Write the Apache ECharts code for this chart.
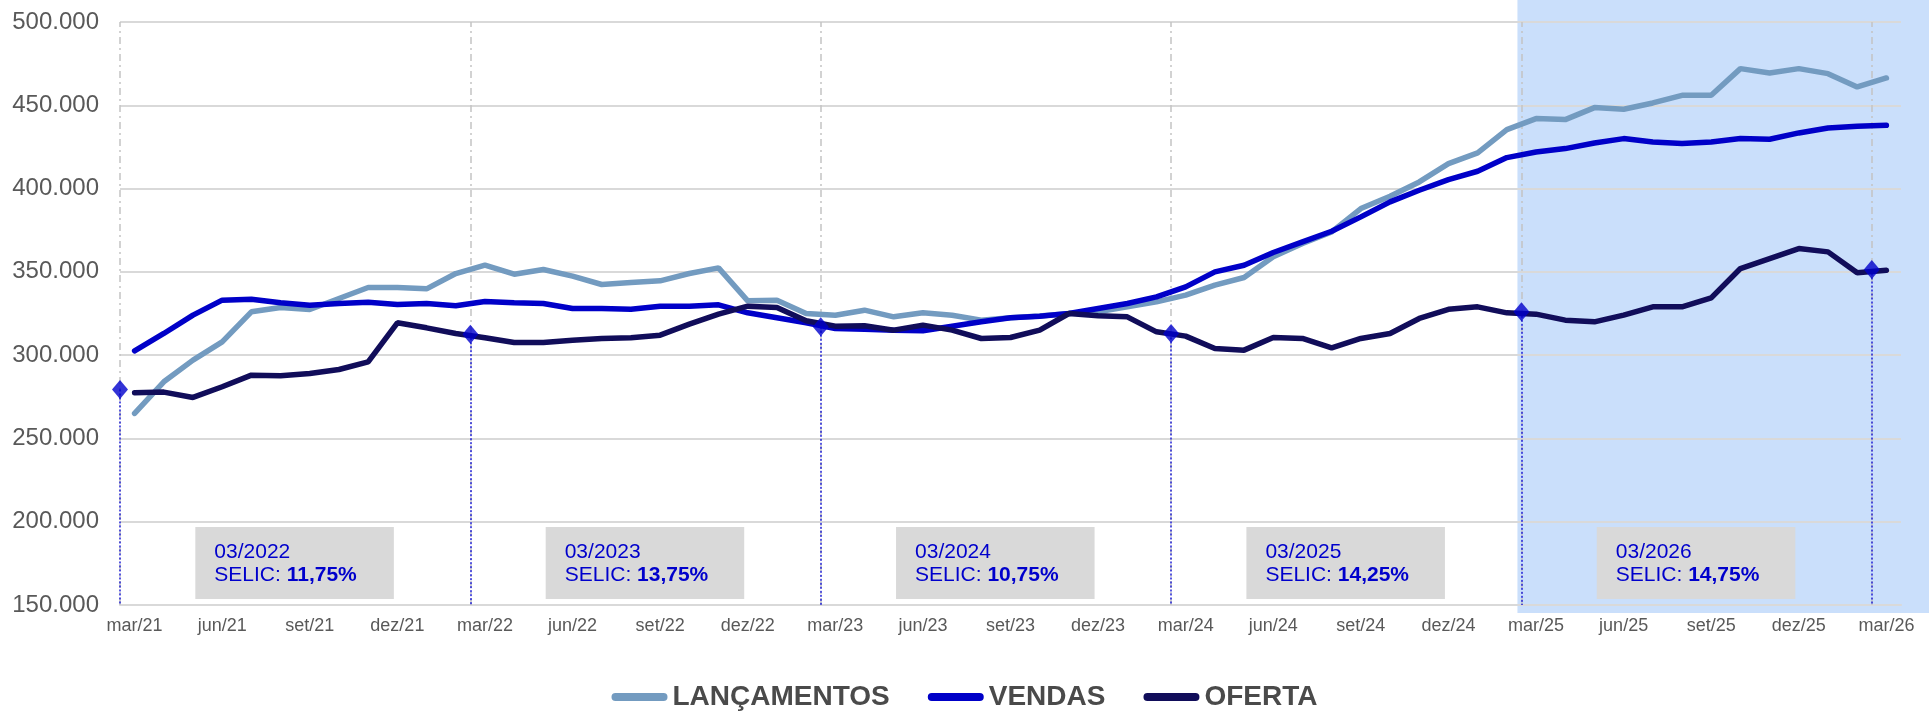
<!DOCTYPE html>
<html>
<head>
<meta charset="utf-8">
<title>Lançamentos, Vendas e Oferta</title>
<script src="https://cdn.jsdelivr.net/npm/echarts@6/dist/echarts.min.js"></script>
<style>
  html, body { margin: 0; padding: 0; background: #fff; }
  #chart { width: 1929px; height: 712px; }
</style>
</head>
<body>
<div id="chart"></div>
<script>
// meses mar/21 .. mar/26
const monthNames = ["mar", "abr", "mai", "jun", "jul", "ago", "set", "out", "nov", "dez", "jan", "fev"];
const categories = [];
for (let i = 0; i < 61; i++) {
  categories.push(monthNames[i % 12] + "/" + (21 + Math.floor((i + 2) / 12)));
}

const lancamentos = [
  265000, 284000, 297000, 308000, 326000, 328600, 327400, 334000, 340600, 340600,
  339800, 349000, 354000, 348600, 351400, 347400, 342400, 343600, 344600, 349000,
  352400, 332600, 333000, 325000, 324000, 327000, 323000, 325400, 324000, 321000,
  322500, 323500, 325000, 326000, 329000, 332000, 336000, 342000, 346600, 359000,
  367000, 374000, 388000, 395400, 404000, 415000, 421400, 435400, 442000, 441400,
  448600, 447600, 451400, 456000, 456000, 472000, 469400, 472000, 469000, 461000,
  466400,
];
const vendas = [
  302600, 313000, 324000, 333000, 333600, 331400, 330000, 331000, 331800, 330400,
  331000, 329600, 332200, 331400, 331000, 328000, 328000, 327600, 329400, 329400,
  330200, 325400, 322400, 319400, 316000, 315600, 315000, 314600, 317400, 320000,
  322400, 323400, 325000, 328000, 331000, 335000, 341000, 350000, 354000, 361600,
  368000, 374400, 383000, 392000, 399000, 405400, 410400, 418600, 422000, 424000,
  427400, 430000, 428000, 427000, 428000, 430000, 429600, 433400, 436400, 437400,
  438000,
];
const oferta = [
  277400, 277800, 274600, 281000, 288000, 287600, 289000, 291400, 296000, 319400,
  316400, 313000, 310400, 307600, 307600, 309000, 310000, 310400, 312000, 318600,
  324600, 329400, 328600, 320600, 317400, 317600, 315000, 318000, 315000, 310000,
  310600, 315000, 325000, 323600, 323000, 314000, 311400, 304000, 303000, 310600,
  310000, 304400, 310000, 313000, 322000, 327500, 329000, 325400, 324600, 321000,
  320000, 324000, 329000, 329000, 334400, 352000, 358000, 364000, 362000, 349400,
  351000,
];

// marcos de março (posição no eixo em meses desde mar/21) e SELIC
const markIdx = [0, 12, 24, 36, 48, 60];
const markValues = [279400, 312600, 317000, 313000, 326000, 351400];
const selicDates = ["03/2022", "03/2023", "03/2024", "03/2025", "03/2026"];
const selicRates = ["11,75%", "13,75%", "10,75%", "14,25%", "14,75%"];
const projectionStart = 48;

const FONT = "'Liberation Sans', Arial, sans-serif";
const fmtThousands = v => String(v).replace(/\B(?=(\d{3})+(?!\d))/g, ".");

const chart = echarts.init(document.getElementById("chart"));

const option = {
  animation: false,
  backgroundColor: "#fff",
  grid: { left: 120, right: 28, top: 22, bottom: 107, containLabel: false },
  legend: {
    data: ["LANÇAMENTOS", "VENDAS", "OFERTA"],
    top: 678,
    left: "center",
    itemWidth: 56,
    itemHeight: 8,
    itemGap: 38,
    icon: "path://M4,0 H52 A4,4 0 0 1 52,8 H4 A4,4 0 0 1 4,0 Z",
    textStyle: { fontSize: 28, fontWeight: "bold", color: "#4a4a4a", fontFamily: FONT },
  },
  xAxis: [
    {
      type: "category",
      data: categories,
      boundaryGap: true,
      axisLine: { lineStyle: { color: "#d9d9d9", width: 2 } },
      axisTick: { interval: 2, length: 6, lineStyle: { color: "#d9d9d9", width: 2 } },
      axisLabel: { interval: 2, margin: 12, fontSize: 18, color: "#595959", fontFamily: FONT },
      splitLine: { show: false },
    },
    {
      type: "value",
      min: 0,
      max: 61,
      show: false,
    },
  ],
  yAxis: {
    type: "value",
    min: 150000,
    max: 500000,
    interval: 50000,
    axisLine: { show: false },
    axisTick: { show: false },
    axisLabel: { margin: 21, fontSize: 24, color: "#595959", fontFamily: FONT, formatter: fmtThousands },
    splitLine: { lineStyle: { color: "#d9d9d9", width: 2 } },
  },
  series: [
    {
      name: "LANÇAMENTOS",
      type: "line",
      data: lancamentos,
      color: "#739bc0",
      symbol: "none",
      lineStyle: { width: 5.5, cap: "round" },
      z: 2,
    },
    {
      name: "VENDAS",
      type: "line",
      data: vendas,
      color: "#0000c8",
      symbol: "none",
      lineStyle: { width: 5.5, cap: "round" },
      z: 3,
    },
    {
      name: "OFERTA",
      type: "line",
      data: oferta,
      color: "#110d5a",
      symbol: "none",
      lineStyle: { width: 5.5, cap: "round" },
      z: 4,
    },
    {
      name: "marcos",
      type: "scatter",
      xAxisIndex: 1,
      data: markIdx.map((x, k) => [x, markValues[k]]),
      symbol: "diamond",
      symbolSize: [16, 19],
      itemStyle: { color: "#0000cc" },
      z: 6,
      silent: true,
      markLine: {
        silent: true,
        symbol: "none",
        z: 1,
        label: { show: false },
        data: [
          ...markIdx.map(x => ({
            xAxis: x,
            lineStyle: { color: "#c4c4c4", width: 1.5, type: [7, 4, 2, 4] },
          })),
          ...markIdx.map((x, k) => [
            { coord: [x, markValues[k]], lineStyle: { color: "#1f1fd6", width: 1.5, type: [2, 2] } },
            { coord: [x, 150000] },
          ]),
        ],
      },
    },
    {
      name: "selic",
      type: "custom",
      xAxisIndex: 1,
      silent: true,
      z: 7,
      data: selicDates.map((d, k) => [markIdx[k], 196800]),
      renderItem: (params, api) => {
        const k = params.dataIndex;
        const x0 = api.value(0) + 2.58;
        const p0 = api.coord([x0, 196800]);
        const p1 = api.coord([x0 + 6.8, 153600]);
        return {
          type: "group",
          children: [
            {
              type: "rect",
              shape: { x: p0[0], y: p0[1], width: p1[0] - p0[0], height: p1[1] - p0[1] },
              style: { fill: "#d9d9d9" },
            },
            {
              type: "text",
              x: p0[0] + 19,
              y: (p0[1] + p1[1]) / 2 + 1,
              style: {
                text: "{n|" + selicDates[k] + "}\n{n|SELIC: }{b|" + selicRates[k] + "}",
                verticalAlign: "middle",
                align: "left",
                rich: {
                  n: { fill: "#0000cc", fontSize: 21, fontFamily: FONT, lineHeight: 23 },
                  b: { fill: "#0000cc", fontSize: 21, fontFamily: FONT, fontWeight: "bold", lineHeight: 23 },
                },
              },
            },
          ],
        };
      },
    },
  ],
};

chart.setOption(option);

// faixa de projeção (a partir de mar/25) até a borda direita
const bandLeft = chart.convertToPixel({ xAxisIndex: 1 }, projectionStart) - 4;
const bandBottom = chart.convertToPixel({ yAxisIndex: 0 }, 150000) + 8;
chart.setOption({
  graphic: [
    {
      type: "rect",
      z: -10,
      silent: true,
      shape: { x: bandLeft, y: 0, width: 1929 - bandLeft, height: bandBottom },
      style: { fill: "#cadffb" },
    },
  ],
});
</script>
</body>
</html>
